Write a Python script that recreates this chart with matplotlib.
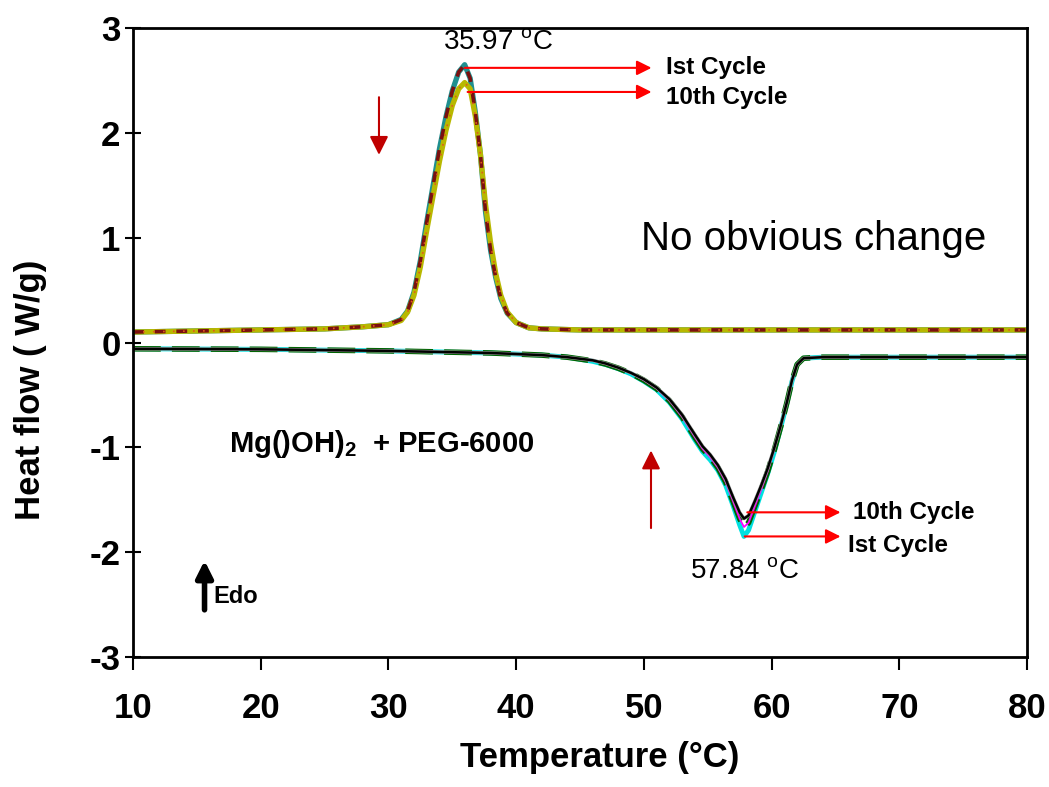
import matplotlib
matplotlib.use('Agg')
import matplotlib.pyplot as plt

plt.rcParams['font.family'] = ['Liberation Sans', 'DejaVu Sans']
plt.rcParams['mathtext.fontset'] = 'custom'
plt.rcParams['mathtext.rm'] = 'Liberation Sans'
plt.rcParams['mathtext.bf'] = 'Liberation Sans:bold'
plt.rcParams['axes.unicode_minus'] = False

# cooling runs (exothermic peak)
cool_T = [10, 15, 20, 25, 28, 30, 31, 31.5, 32, 32.5, 33, 33.5, 34, 34.5, 35,
          35.5, 35.97, 36.4, 36.8, 37.2, 37.6, 38, 38.4, 38.8, 39.3, 40, 41,
          42, 45, 50, 60, 70, 80]
cool_1st = [0.10, 0.11, 0.12, 0.13, 0.15, 0.17, 0.22, 0.30, 0.48, 0.78, 1.15,
            1.50, 1.85, 2.15, 2.40, 2.58, 2.65, 2.52, 2.20, 1.80, 1.25, 0.88,
            0.62, 0.42, 0.28, 0.19, 0.14, 0.13, 0.12, 0.12, 0.12, 0.12, 0.12]
cool_10th = [0.10, 0.11, 0.12, 0.13, 0.15, 0.17, 0.21, 0.29, 0.45, 0.72, 1.07,
             1.40, 1.73, 2.02, 2.26, 2.42, 2.48, 2.42, 2.16, 1.80, 1.32, 0.95,
             0.66, 0.45, 0.29, 0.19, 0.14, 0.13, 0.12, 0.12, 0.12, 0.12, 0.12]

# heating runs (endothermic dip)
heat_T = [10, 20, 30, 38, 42, 44, 46, 47, 48, 49, 50, 51, 52, 53, 54, 54.6,
          55.2, 55.8, 56.4, 57, 57.5, 57.84, 58.2, 58.7, 59.2, 59.7, 60.2, 60.7,
          61.2, 61.6, 62, 62.5, 64, 70, 80]
heat_1st = [-0.06, -0.065, -0.08, -0.10, -0.12, -0.14, -0.18, -0.21, -0.25,
            -0.30, -0.37, -0.45, -0.57, -0.73, -0.93, -1.04, -1.12, -1.22,
            -1.36, -1.56, -1.74, -1.85, -1.79, -1.61, -1.43, -1.25, -1.05,
            -0.82, -0.58, -0.37, -0.21, -0.15, -0.14, -0.14, -0.14]
heat_5th = [-0.06, -0.065, -0.08, -0.10, -0.12, -0.14, -0.175, -0.205, -0.245,
            -0.295, -0.36, -0.44, -0.555, -0.71, -0.905, -1.015, -1.095, -1.195,
            -1.33, -1.52, -1.68, -1.76, -1.72, -1.56, -1.40, -1.23, -1.03,
            -0.81, -0.575, -0.365, -0.21, -0.15, -0.14, -0.14, -0.14]
heat_10th = [-0.06, -0.065, -0.08, -0.10, -0.12, -0.14, -0.17, -0.20, -0.24,
             -0.29, -0.35, -0.43, -0.54, -0.69, -0.88, -0.99, -1.07, -1.17,
             -1.30, -1.48, -1.62, -1.68, -1.65, -1.51, -1.36, -1.20, -1.01,
             -0.80, -0.57, -0.36, -0.21, -0.15, -0.14, -0.14, -0.14]

x_ticks = [10, 20, 30, 40, 50, 60, 70, 80]
y_ticks = [-3, -2, -1, 0, 1, 2, 3]


def arrow(ax, start, end, color, lw=1.5, scale=22):
    ax.annotate('', xy=end, xytext=start,
                arrowprops=dict(arrowstyle='-|>', color=color, lw=lw,
                                mutation_scale=scale, shrinkA=0, shrinkB=0))


fig = plt.figure(figsize=(10.49, 7.87), dpi=100)
ax = fig.add_axes([0.1268, 0.1652, 0.8522, 0.7992])

# cooling curves
ax.plot(cool_T, cool_1st, color='#1f8f8f', lw=3.8)
ax.plot(cool_T, cool_10th, color='#b8b800', lw=3.8)
ax.plot(cool_T, cool_1st, color='#7a1010', lw=2.6, dashes=(3, 3))
ax.plot(cool_T, cool_10th, color='#e05a1a', lw=1.2, dashes=(1, 5))

# heating curves
ax.plot(heat_T, heat_1st, color='#00e0e0', lw=3.5)
ax.plot(heat_T, heat_5th, color='#006400', lw=4, dashes=(5, 2))
ax.plot(heat_T, heat_5th, color='#ff00ff', lw=1.3)
ax.plot(heat_T, heat_10th, color='#a0a0a0', lw=2.5)
ax.plot(heat_T, heat_10th, color='black', lw=1.8)

ax.set_xlim(10, 80)
ax.set_ylim(-3, 3)
ax.set_xticks(x_ticks)
ax.set_yticks(y_ticks)
ax.tick_params(axis='x', direction='out', length=9, width=1.5, pad=16,
               labelsize=25)
ax.tick_params(axis='y', direction='inout', length=12, width=1.5, pad=3,
               labelsize=25)
for lab in ax.get_xticklabels() + ax.get_yticklabels():
    lab.set_fontweight('bold')
for sp in ax.spines.values():
    sp.set_linewidth(2)

ax.set_xlabel('Temperature (°C)', fontsize=25, fontweight='bold',
              va='center')
ax.set_ylabel('Heat flow ( W/g)', fontsize=25, fontweight='bold',
              va='center')
ax.xaxis.set_label_coords(0.522, -0.16)
ax.yaxis.set_label_coords(-0.115, 0.424)

# peak labels
ax.text(38.6, 2.86, '35.97 $^{\\mathrm{o}}$C', fontsize=20, ha='center',
        va='center')
ax.text(57.9, -2.19, '57.84 $^{\\mathrm{o}}$C', fontsize=20, ha='center',
        va='center')

red = '#ff0000'
arrow(ax, (35.97, 2.62), (50.6, 2.62), red)
arrow(ax, (36.2, 2.39), (50.6, 2.39), red)
ax.text(51.7, 2.62, 'Ist Cycle', fontsize=17.5, fontweight='bold',
        va='center')
ax.text(51.7, 2.34, '10th Cycle', fontsize=17.5, fontweight='bold',
        va='center')

arrow(ax, (58.1, -1.62), (65.4, -1.62), red)
arrow(ax, (57.9, -1.85), (65.4, -1.85), red)
ax.text(66.4, -1.62, '10th Cycle', fontsize=17.5, fontweight='bold',
        va='center')
ax.text(66.0, -1.94, 'Ist Cycle', fontsize=17.5, fontweight='bold',
        va='center')

# direction arrows
dark_red = '#c00000'
arrow(ax, (29.26, 2.34), (29.26, 1.79), dark_red, scale=28)
arrow(ax, (50.56, -1.77), (50.56, -1.03), dark_red, scale=28)

ax.text(49.8, 0.99, 'No obvious change', fontsize=29, va='center')
ax.text(17.5, -0.97, 'Mg()OH)$_{\\mathbf{2}}$  + PEG-6000', fontsize=21,
        fontweight='bold', va='center')

arrow(ax, (15.6, -2.55), (15.6, -2.08), 'black', lw=4, scale=25)
ax.text(16.3, -2.42, 'Edo', fontsize=17, fontweight='bold', va='center')

fig.savefig('out.png', dpi=100)
